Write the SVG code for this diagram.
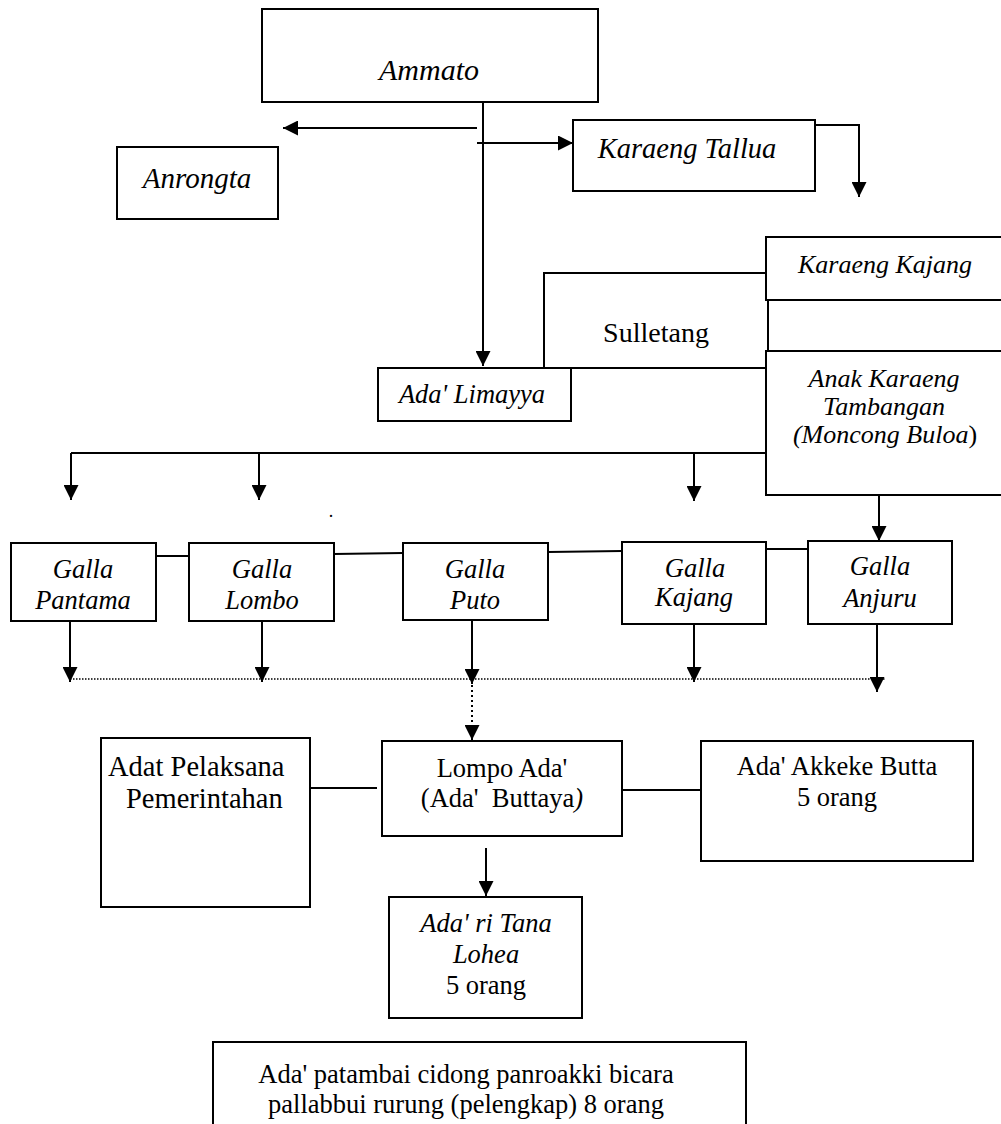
<svg xmlns="http://www.w3.org/2000/svg" width="1001" height="1124" viewBox="0 0 1001 1124">
<style>
.box{fill:#fff;stroke:#000;stroke-width:2}
.ln{fill:none;stroke:#000;stroke-width:2}
.dot{fill:none;stroke:#000;stroke-width:1.5;stroke-dasharray:1.5 1.5}
.dotv{fill:none;stroke:#000;stroke-width:2;stroke-dasharray:2 3}
text{font-family:"Liberation Serif","Times New Roman",serif;fill:#000;text-anchor:middle}
.it{font-style:italic}
</style>
<defs>
<marker id="ah" viewBox="0 0 15 15" markerWidth="15" markerHeight="15" markerUnits="userSpaceOnUse" refX="15" refY="7.5" orient="auto">
<path d="M0,0 L15,7.5 L0,15 z" fill="#000"/>
</marker>
</defs>
<rect width="1001" height="1124" fill="#fff"/>

<g id="sulletang">
<rect class="box" x="544" y="273" width="224" height="95"/>
<text x="656" y="342" font-size="28">Sulletang</text>
</g>
<g id="ammato">
<rect class="box" x="262" y="9" width="336" height="93"/>
<text class="it" x="429" y="80" font-size="30">Ammato</text>
</g>
<g id="anrongta">
<rect class="box" x="117" y="147" width="161" height="72"/>
<text class="it" x="197" y="188" font-size="29">Anrongta</text>
</g>
<g id="karaeng-tallua">
<rect class="box" x="573" y="120" width="242" height="71"/>
<text class="it" x="687" y="158" font-size="28.5">Karaeng Tallua</text>
</g>
<g id="karaeng-kajang">
<rect class="box" x="766" y="237" width="240" height="63"/>
<text class="it" x="885" y="273" font-size="26">Karaeng Kajang</text>
</g>
<g id="anak-karaeng">
<rect class="box" x="766" y="351" width="240" height="144"/>
<text class="it" x="884" y="387" font-size="26">Anak Karaeng</text>
<text class="it" x="884" y="415" font-size="26">Tambangan</text>
<text class="it" x="885" y="443" font-size="26">(Moncong Buloa<tspan font-style="normal">)</tspan></text>
</g>
<g id="ada-limayya">
<rect class="box" x="378" y="368" width="193" height="53"/>
<text class="it" x="472" y="403" font-size="26.5">Ada' Limayya</text>
</g>
<g id="galla-pantama">
<rect class="box" x="11" y="543" width="145" height="78"/>
<text class="it" x="83" y="578" font-size="26.5">Galla</text>
<text class="it" x="83" y="609" font-size="26.5">Pantama</text>
</g>
<g id="galla-lombo">
<rect class="box" x="189" y="543" width="145" height="78"/>
<text class="it" x="262" y="578" font-size="26.5">Galla</text>
<text class="it" x="262" y="609" font-size="26.5">Lombo</text>
</g>
<g id="galla-puto">
<rect class="box" x="403" y="543" width="145" height="77"/>
<text class="it" x="475" y="578" font-size="26.5">Galla</text>
<text class="it" x="475" y="609" font-size="26.5">Puto</text>
</g>
<g id="galla-kajang">
<rect class="box" x="622" y="542" width="144" height="82"/>
<text class="it" x="695" y="577" font-size="26.5">Galla</text>
<text class="it" x="694" y="606" font-size="26.5">Kajang</text>
</g>
<g id="galla-anjuru">
<rect class="box" x="808" y="541" width="144" height="83"/>
<text class="it" x="880" y="575" font-size="26.5">Galla</text>
<text class="it" x="880" y="607" font-size="26.5">Anjuru</text>
</g>
<g id="adat-pelaksana">
<rect class="box" x="101" y="738" width="209" height="169"/>
<text x="108" y="776" font-size="28.5" style="text-anchor:start">Adat Pelaksana</text>
<text x="126" y="808" font-size="28.5" style="text-anchor:start">Pemerintahan</text>
</g>
<g id="lompo-ada">
<rect class="box" x="382" y="741" width="240" height="95"/>
<text x="502" y="777" font-size="26.5">Lompo Ada'</text>
<text x="502" y="807" font-size="26.5" xml:space="preserve">(Ada'  Buttaya<tspan font-style="italic">)</tspan></text>
</g>
<g id="ada-akkeke-butta">
<rect class="box" x="701" y="741" width="272" height="120"/>
<text x="837" y="775" font-size="26.5">Ada' Akkeke Butta</text>
<text x="837" y="806" font-size="26.5">5 orang</text>
</g>
<g id="ada-ri-tana-lohea">
<rect class="box" x="389" y="897" width="193" height="121"/>
<text class="it" x="486" y="932" font-size="26.5">Ada' ri Tana</text>
<text class="it" x="486" y="963" font-size="26.5">Lohea</text>
<text x="486" y="994" font-size="26.5">5 orang</text>
</g>
<g id="ada-patambai">
<rect class="box" x="213" y="1042" width="533" height="100"/>
<text x="466" y="1083" font-size="26.5">Ada' patambai cidong panroakki bicara</text>
<text x="466" y="1113" font-size="26.5">pallabbui rurung (pelengkap) 8 orang</text>
</g>
<text x="331" y="517" font-size="18">.</text>

<g id="connectors">
<path class="ln" d="M477,128 H283" marker-end="url(#ah)"/>
<path class="ln" d="M477,143 H573" marker-end="url(#ah)"/>
<path class="ln" d="M815,125 H859 V197" marker-end="url(#ah)"/>
<path class="ln" d="M483,102 V366" marker-end="url(#ah)"/>
<path class="ln" d="M71,453 H766"/>
<path class="ln" d="M71,453 V500" marker-end="url(#ah)"/>
<path class="ln" d="M259,453 V500" marker-end="url(#ah)"/>
<path class="ln" d="M694,453 V501" marker-end="url(#ah)"/>
<path class="ln" d="M879,495 V541" marker-end="url(#ah)"/>
<path class="ln" d="M156,556 H189"/>
<path class="ln" d="M334,554 L403,553"/>
<path class="ln" d="M548,552 L622,551"/>
<path class="ln" d="M766,549 H808"/>
<path class="dot" d="M70,679 H885"/>
<path class="ln" d="M70,621 V682" marker-end="url(#ah)"/>
<path class="ln" d="M262,621 V682" marker-end="url(#ah)"/>
<path class="ln" d="M472,620 V684" marker-end="url(#ah)"/>
<path class="ln" d="M694,624 V682" marker-end="url(#ah)"/>
<path class="ln" d="M877,624 V692" marker-end="url(#ah)"/>
<path class="dotv" d="M472,685 V727"/>
<path class="ln" d="M472,726 V740" marker-end="url(#ah)"/>
<path class="ln" d="M311,788 H377"/>
<path class="ln" d="M622,790 H701"/>
<path class="ln" d="M486,848 V896" marker-end="url(#ah)"/>
</g>
</svg>
